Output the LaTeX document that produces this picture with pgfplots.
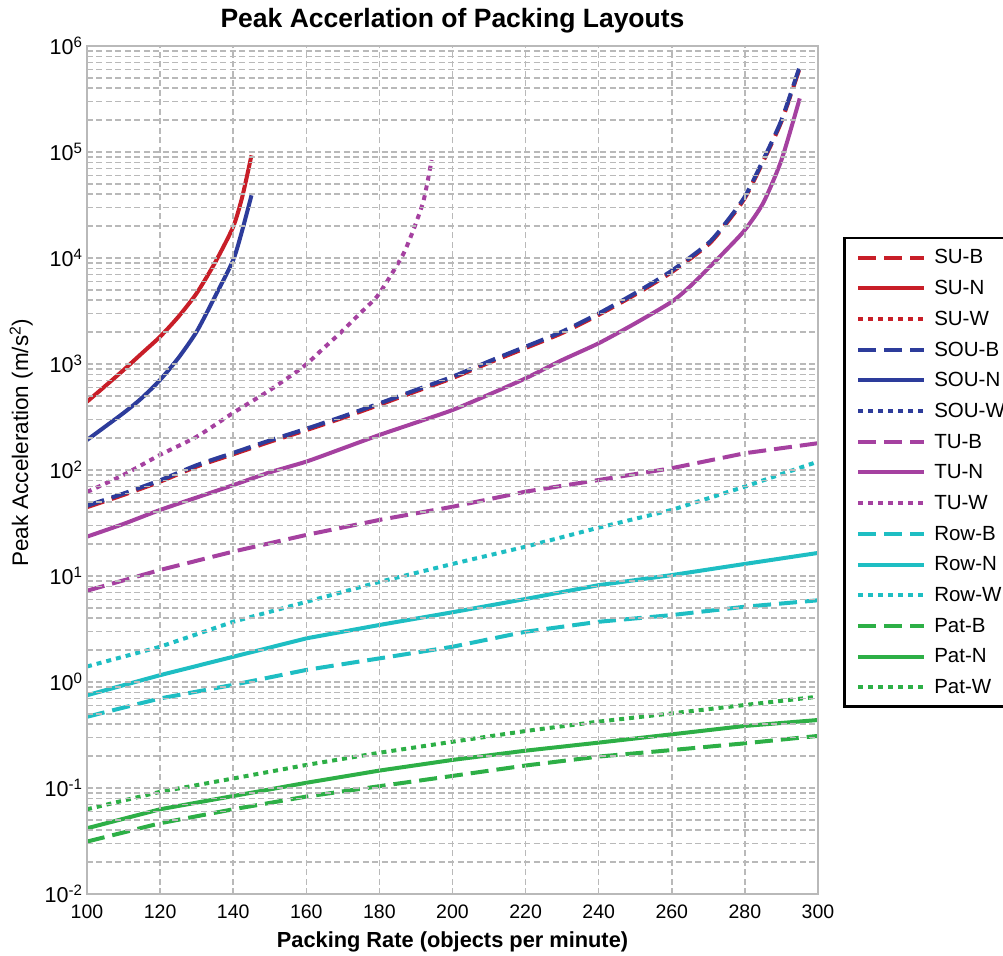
\documentclass[border=0pt]{standalone}
\usepackage{fontspec}
\setmainfont{Liberation Sans}
\usepackage{pgfplots}
\pgfplotsset{compat=1.18}
\usetikzlibrary{calc}
\definecolor{cSU}{RGB}{200,30,40}
\definecolor{cSOU}{RGB}{45,60,155}
\definecolor{cTU}{RGB}{165,65,160}
\definecolor{cRow}{RGB}{30,190,195}
\definecolor{cPat}{RGB}{45,175,70}
\definecolor{gridc}{RGB}{185,185,185}
\tikzset{ldash/.style={dash pattern=on 18pt off 8pt}, ldot/.style={dash pattern=on 5pt off 5pt}}
\begin{document}
\begin{tikzpicture}
\begin{axis}[
  scale only axis, width=731pt, height=848pt,
  ymode=log, xmin=100, xmax=300, ymin=1e-2, ymax=1e6,
  xtick={100,120,...,300},
  ytick={1e-2,1e-1,1,10,100,1000,10000,100000,1000000},
  yticklabels={10\textsuperscript{-2},10\textsuperscript{-1},10\textsuperscript{0},10\textsuperscript{1},10\textsuperscript{2},10\textsuperscript{3},10\textsuperscript{4},10\textsuperscript{5},10\textsuperscript{6}},
  minor ytick={2e-2,3e-2,4e-2,5e-2,6e-2,7e-2,8e-2,9e-2,
               2e-1,3e-1,4e-1,5e-1,6e-1,7e-1,8e-1,9e-1,
               2,3,4,5,6,7,8,9,20,30,40,50,60,70,80,90,
               200,300,400,500,600,700,800,900,
               2000,3000,4000,5000,6000,7000,8000,9000,
               2e4,3e4,4e4,5e4,6e4,7e4,8e4,9e4,
               2e5,3e5,4e5,5e5,6e5,7e5,8e5,9e5},
  grid=both,
  major grid style={gridc, dash pattern=on 6pt off 3.5pt, line width=1.5pt},
  minor grid style={gridc, dash pattern=on 6pt off 3.5pt, line width=1.5pt},
  axis line style={gridc, line width=1.8pt},
  major tick length=0pt, minor tick length=0pt,
  axis on top,
  /pgf/number format/assume math mode=true,
  /pgf/number format/1000 sep={},
  xticklabel style={font=\fontsize{19.5}{19.5}\selectfont, yshift=-7pt},
  yticklabel style={font=\fontsize{21.5}{21.5}\selectfont, xshift=-1pt},
  title={Peak Accerlation of Packing Layouts},
  title style={font=\bfseries\fontsize{26.5}{26.5}\selectfont, at={(0.5,1.0142)}, anchor=base},
  xlabel={Packing Rate (objects per minute)},
  xlabel style={font=\bfseries\fontsize{21.8}{21.8}\selectfont, at={(0.5,-0.0635)}, anchor=base},
  ylabel={Peak Acceleration (m/s\textsuperscript{2})},
  ylabel style={font=\fontsize{22.5}{22.5}\selectfont, at={(-0.0805,0.532)}, anchor=base},
  every axis plot/.append style={line width=4pt, line join=round, no markers},
  legend cell align=left,
  legend image code/.code={\draw[#1] (0pt,0pt) -- (66pt,0pt);},
  legend style={at={(1.0342,0.7748)}, anchor=north west, draw=black, line width=2.5pt, fill=white,
    font=\fontsize{20.5}{20.5}\selectfont, inner xsep=12pt, inner ysep=4pt, row sep=0pt,
    nodes={inner sep=0pt, minimum height=30.7pt},
    /tikz/every odd column/.append style={column sep=8pt}},
]
\coordinate (ll) at (rel axis cs:0,0);
\coordinate (ur) at (rel axis cs:1,1);
% SU-B
\addplot[cSU, ldash, smooth, tension=0.4] coordinates {(100,44.6)(110,58.2)(120,77.6)(130,107.7)(140,140.7)(150,184.3)(160,237.7)(170,310.4)(180,412.3)(190,551.9)(200,736.2)(210,1028)(220,1414)(230,1959)(240,2910)(250,4520)(260,7372)(270,13386)(275,21340)(280,36860)(285,81480)(290,194000)(295,620800)};
\addlegendentry{SU-B}
% SU-N
\addplot[cSU, smooth, tension=0.4] coordinates {(100,441)(105,620)(110,877)(115,1260)(120,1810)(125,2790)(130,4650)(135,9000)(140,19700)(142.5,38000)(145,93000)};
\addlegendentry{SU-N}
\addlegendimage{cSU, line width=4pt, ldot}
\addlegendentry{SU-W}
% SOU-B
\addplot[cSOU, ldash, smooth, tension=0.4] coordinates {(100,46)(110,60)(120,80)(130,111)(140,145)(150,190)(160,245)(170,320)(180,425)(190,569)(200,759)(210,1060)(220,1458)(230,2020)(240,3000)(250,4660)(260,7600)(270,13800)(275,22000)(280,38000)(285,84000)(290,200000)(295,640000)};
\addlegendentry{SOU-B}
% SOU-N
\addplot[cSOU, smooth, tension=0.4] coordinates {(100,192)(110,345)(115,478)(120,708)(125,1140)(130,2020)(135,4310)(140,9570)(142.5,18400)(145,39000)};
\addlegendentry{SOU-N}
\addlegendimage{cSOU, line width=4pt, ldot}
\addlegendentry{SOU-W}
% TU-B
\addplot[cTU, ldash] coordinates {(100,7.26)(120,11.4)(140,17)(160,24.4)(180,33.8)(200,45)(220,62.5)(240,80.5)(260,104)(280,144)(300,179)};
\addlegendentry{TU-B}
% TU-N
\addplot[cTU, smooth, tension=0.4] coordinates {(100,23.5)(110,31)(120,42)(130,55)(140,72)(150,95)(160,120)(170,160)(180,214)(190,280)(200,368)(210,515)(220,733)(230,1090)(240,1570)(250,2420)(260,3870)(265,5400)(270,8000)(275,12000)(280,18400)(285,33000)(290,84000)(295,320000)};
\addlegendentry{TU-N}
% TU-W
\addplot[cTU, ldot, smooth, tension=0.4] coordinates {(100,62)(110,90)(120,139)(130,206)(140,346)(150.1,569)(159.2,944)(164.7,1406)(169.2,1950)(174.7,3000)(179.3,4310)(182.9,6660)(186.6,11000)(189.3,18400)(192.1,35000)(194.3,84000)};
\addlegendentry{TU-W}
% Row-B
\addplot[cRow, ldash] coordinates {(100,0.47)(120,0.70)(140,0.94)(160,1.3)(180,1.67)(200,2.15)(220,2.98)(240,3.7)(260,4.28)(280,5.13)(300,5.9)};
\addlegendentry{Row-B}
% Row-N
\addplot[cRow] coordinates {(100,0.75)(120,1.16)(140,1.73)(160,2.58)(180,3.45)(200,4.55)(220,6.07)(240,8.2)(260,10.2)(280,13)(300,16.5)};
\addlegendentry{Row-N}
% Row-W
\addplot[cRow, ldot] coordinates {(100,1.4)(120,2.15)(140,3.7)(160,5.7)(180,8.8)(200,13)(220,18.9)(240,28.6)(260,42)(280,69.7)(300,120)};
\addlegendentry{Row-W}
% Pat-B
\addplot[cPat, ldash] coordinates {(100,0.0312)(120,0.0465)(140,0.063)(160,0.083)(180,0.104)(200,0.13)(220,0.163)(240,0.198)(260,0.228)(280,0.264)(300,0.31)};
\addlegendentry{Pat-B}
% Pat-N
\addplot[cPat] coordinates {(100,0.0417)(120,0.063)(140,0.084)(160,0.112)(180,0.146)(200,0.184)(220,0.225)(240,0.268)(260,0.321)(280,0.385)(300,0.438)};
\addlegendentry{Pat-N}
% Pat-W
\addplot[cPat, ldot] coordinates {(100,0.063)(120,0.092)(140,0.123)(160,0.165)(180,0.215)(200,0.273)(220,0.345)(240,0.423)(260,0.506)(280,0.607)(300,0.727)};
\addlegendentry{Pat-W}
\end{axis}
\pgfresetboundingbox
\path[use as bounding box] ($(ll)+(-87pt,-61pt)$) rectangle ($(ur)+(185pt,46pt)$);
\end{tikzpicture}
\end{document}
